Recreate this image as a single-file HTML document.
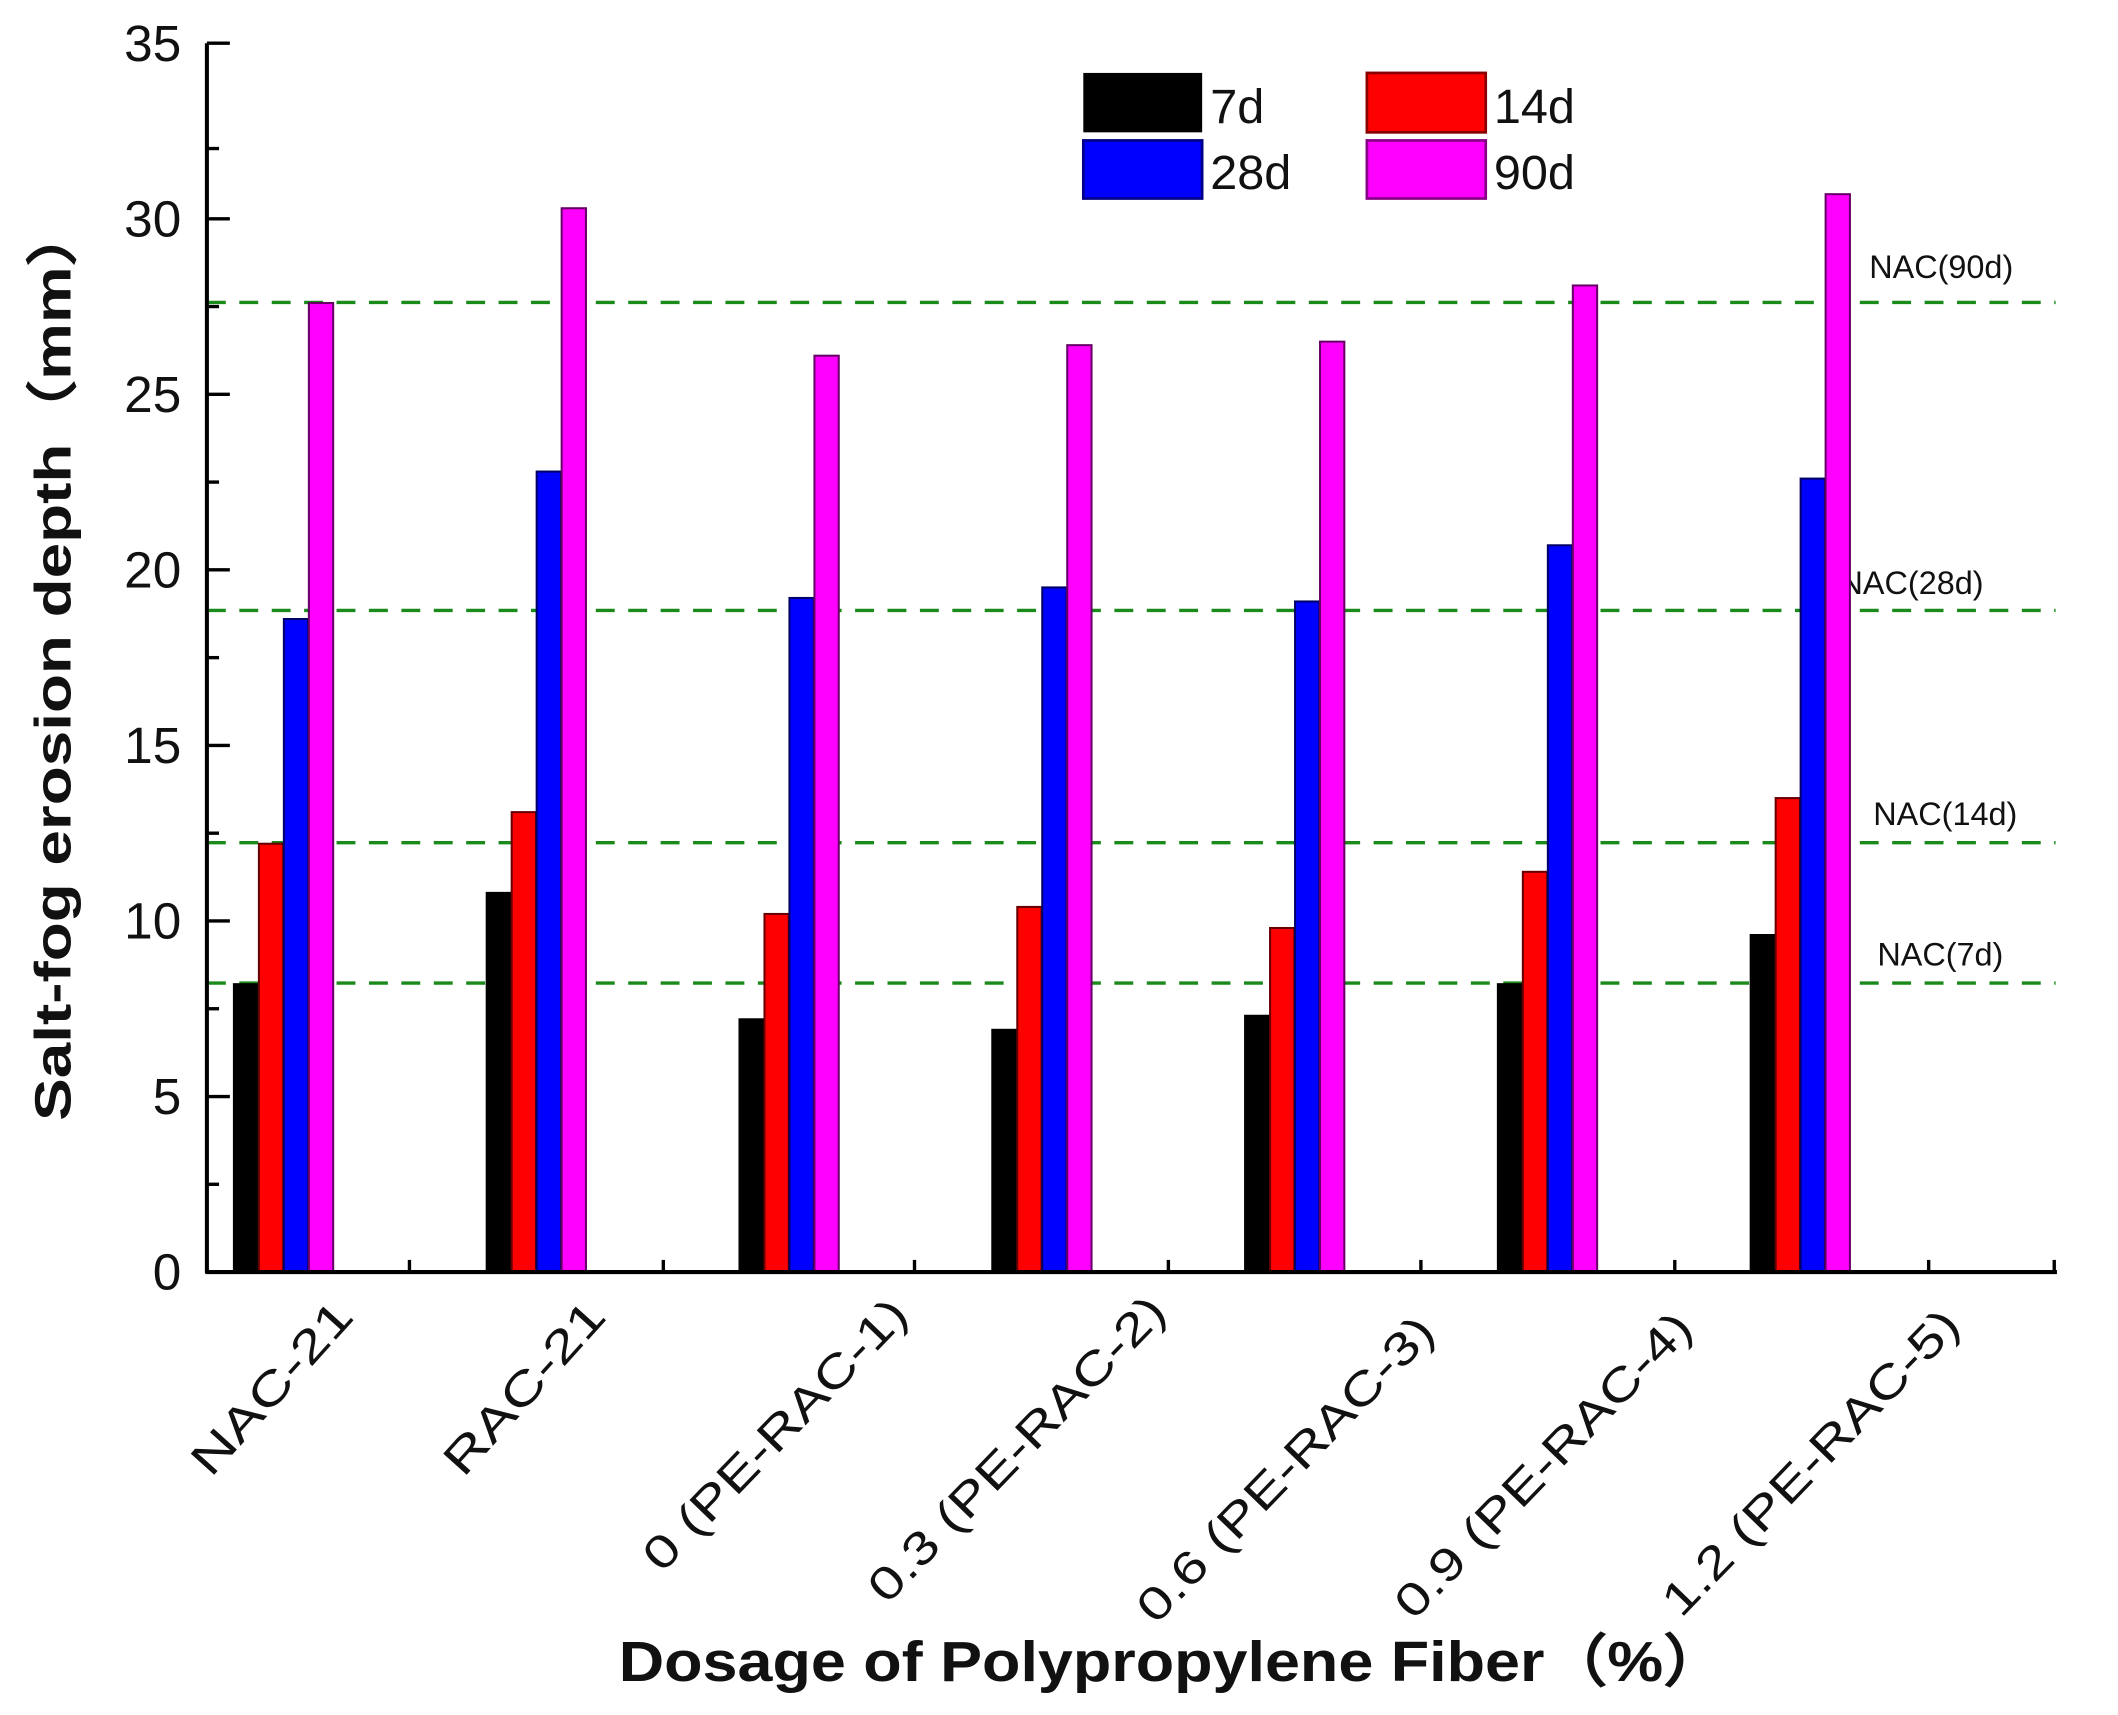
<!DOCTYPE html>
<html><head><meta charset="utf-8"><style>html,body{margin:0;padding:0;background:#fff}svg{display:block}</style></head>
<body>
<svg width="2118" height="1715" viewBox="0 0 1568 1270" xmlns="http://www.w3.org/2000/svg" font-family="Liberation Sans, Arial, sans-serif">
<rect width="1568" height="1270" fill="#fff"/>
<g stroke="#1a8a1a" stroke-width="2.5" stroke-dasharray="14,10">
<line x1="153" y1="224" x2="1522" y2="224"/>
<line x1="153" y1="452" x2="1522" y2="452"/>
<line x1="153" y1="624" x2="1522" y2="624"/>
<line x1="153" y1="728" x2="1522" y2="728"/>
</g>
<g font-size="24" fill="#111">
<text x="1384" y="206">NAC(90d)</text>
<text x="1362" y="440">NAC(28d)</text>
<text x="1387" y="611">NAC(14d)</text>
<text x="1390" y="715">NAC(7d)</text>
</g>
<g stroke-width="1.5">
<rect x="173" y="728.8" width="18" height="213.2" fill="#000" stroke="#000"/>
<rect x="191.5" y="624.8" width="18" height="317.2" fill="#f00" stroke="#600"/>
<rect x="210" y="458.4" width="18" height="483.6" fill="#00f" stroke="#006"/>
<rect x="228.5" y="224.4" width="18" height="717.6" fill="#f0f" stroke="#606"/>

<rect x="360.2" y="661.2" width="18" height="280.8" fill="#000" stroke="#000"/>
<rect x="378.7" y="601.4" width="18" height="340.6" fill="#f00" stroke="#600"/>
<rect x="397.2" y="349.2" width="18" height="592.8" fill="#00f" stroke="#006"/>
<rect x="415.7" y="154.2" width="18" height="787.8" fill="#f0f" stroke="#606"/>

<rect x="547.4" y="754.8" width="18" height="187.2" fill="#000" stroke="#000"/>
<rect x="565.9" y="676.8" width="18" height="265.2" fill="#f00" stroke="#600"/>
<rect x="584.4" y="442.8" width="18" height="499.2" fill="#00f" stroke="#006"/>
<rect x="602.9" y="263.4" width="18" height="678.6" fill="#f0f" stroke="#606"/>

<rect x="734.6" y="762.6" width="18" height="179.4" fill="#000" stroke="#000"/>
<rect x="753.1" y="671.6" width="18" height="270.4" fill="#f00" stroke="#600"/>
<rect x="771.6" y="435" width="18" height="507" fill="#00f" stroke="#006"/>
<rect x="790.1" y="255.6" width="18" height="686.4" fill="#f0f" stroke="#606"/>

<rect x="921.8" y="752.2" width="18" height="189.8" fill="#000" stroke="#000"/>
<rect x="940.3" y="687.2" width="18" height="254.8" fill="#f00" stroke="#600"/>
<rect x="958.8" y="445.4" width="18" height="496.6" fill="#00f" stroke="#006"/>
<rect x="977.3" y="253" width="18" height="689" fill="#f0f" stroke="#606"/>

<rect x="1109" y="728.8" width="18" height="213.2" fill="#000" stroke="#000"/>
<rect x="1127.5" y="645.6" width="18" height="296.4" fill="#f00" stroke="#600"/>
<rect x="1146" y="403.8" width="18" height="538.2" fill="#00f" stroke="#006"/>
<rect x="1164.5" y="211.4" width="18" height="730.6" fill="#f0f" stroke="#606"/>

<rect x="1296.2" y="692.4" width="18" height="249.6" fill="#000" stroke="#000"/>
<rect x="1314.7" y="591" width="18" height="351" fill="#f00" stroke="#600"/>
<rect x="1333.2" y="354.4" width="18" height="587.6" fill="#00f" stroke="#006"/>
<rect x="1351.7" y="143.8" width="18" height="798.2" fill="#f0f" stroke="#606"/>
</g>
<g stroke="#000" stroke-width="3">
<line x1="153" y1="32" x2="153" y2="943"/>
<line x1="152" y1="942" x2="1523" y2="942"/>
</g>
<g stroke="#000" stroke-width="2.5">
<line x1="153" y1="32" x2="170" y2="32"/><line x1="153" y1="110" x2="162" y2="110"/>
<line x1="153" y1="162" x2="170" y2="162"/><line x1="153" y1="227" x2="162" y2="227"/>
<line x1="153" y1="292" x2="170" y2="292"/><line x1="153" y1="357" x2="162" y2="357"/>
<line x1="153" y1="422" x2="170" y2="422"/><line x1="153" y1="487" x2="162" y2="487"/>
<line x1="153" y1="552" x2="170" y2="552"/><line x1="153" y1="617" x2="162" y2="617"/>
<line x1="153" y1="682" x2="170" y2="682"/><line x1="153" y1="747" x2="162" y2="747"/>
<line x1="153" y1="812" x2="170" y2="812"/><line x1="153" y1="877" x2="162" y2="877"/>
<line x1="303" y1="942" x2="303" y2="933"/><line x1="491" y1="942" x2="491" y2="933"/>
<line x1="677" y1="942" x2="677" y2="933"/><line x1="865" y1="942" x2="865" y2="933"/>
<line x1="1052" y1="942" x2="1052" y2="933"/><line x1="1240" y1="942" x2="1240" y2="933"/>
<line x1="1428" y1="942" x2="1428" y2="933"/><line x1="1521" y1="942" x2="1521" y2="933"/>
</g>
<g font-size="38" text-anchor="end" fill="#111">
<text x="134" y="45">35</text><text x="134" y="175">30</text><text x="134" y="305">25</text>
<text x="134" y="435">20</text><text x="134" y="565">15</text><text x="134" y="695">10</text>
<text x="134" y="825">5</text><text x="134" y="955">0</text>
</g>
<text transform="translate(52,490) rotate(-90)" font-size="38" font-weight="bold" text-anchor="middle" textLength="680" lengthAdjust="spacingAndGlyphs" fill="#111">Salt-fog erosion depth（mm）</text>
<text x="458" y="1245" font-size="42" font-weight="bold" textLength="820" lengthAdjust="spacingAndGlyphs" fill="#111">Dosage of Polypropylene Fiber（%）</text>
<g font-size="34" text-anchor="end" fill="#111">
<text transform="translate(263,976) rotate(-48)" textLength="160" lengthAdjust="spacingAndGlyphs">NAC-21</text>
<text transform="translate(450,976) rotate(-48)" textLength="160" lengthAdjust="spacingAndGlyphs">RAC-21</text>
<text transform="translate(674,975) rotate(-46)" textLength="265" lengthAdjust="spacingAndGlyphs">0 (PE-RAC-1)</text>
<text transform="translate(865,973) rotate(-46)" textLength="300" lengthAdjust="spacingAndGlyphs">0.3 (PE-RAC-2)</text>
<text transform="translate(1064,988) rotate(-46)" textLength="300" lengthAdjust="spacingAndGlyphs">0.6 (PE-RAC-3)</text>
<text transform="translate(1255,985) rotate(-46)" textLength="300" lengthAdjust="spacingAndGlyphs">0.9 (PE-RAC-4)</text>
<text transform="translate(1453,983) rotate(-46)" textLength="300" lengthAdjust="spacingAndGlyphs">1.2 (PE-RAC-5)</text>
</g>
<rect x="802" y="54" width="88" height="44" fill="#000"/>
<rect x="1012" y="54" width="88" height="44" fill="#f00" stroke="#800" stroke-width="2"/>
<rect x="802" y="104" width="88" height="43" fill="#00f" stroke="#008" stroke-width="2"/>
<rect x="1012" y="104" width="88" height="43" fill="#f0f" stroke="#808" stroke-width="2"/>
<g font-size="36" fill="#111">
<text x="896" y="91">7d</text><text x="1106" y="91">14d</text>
<text x="896" y="140">28d</text><text x="1106" y="140">90d</text>
</g>
</svg>
</body></html>
